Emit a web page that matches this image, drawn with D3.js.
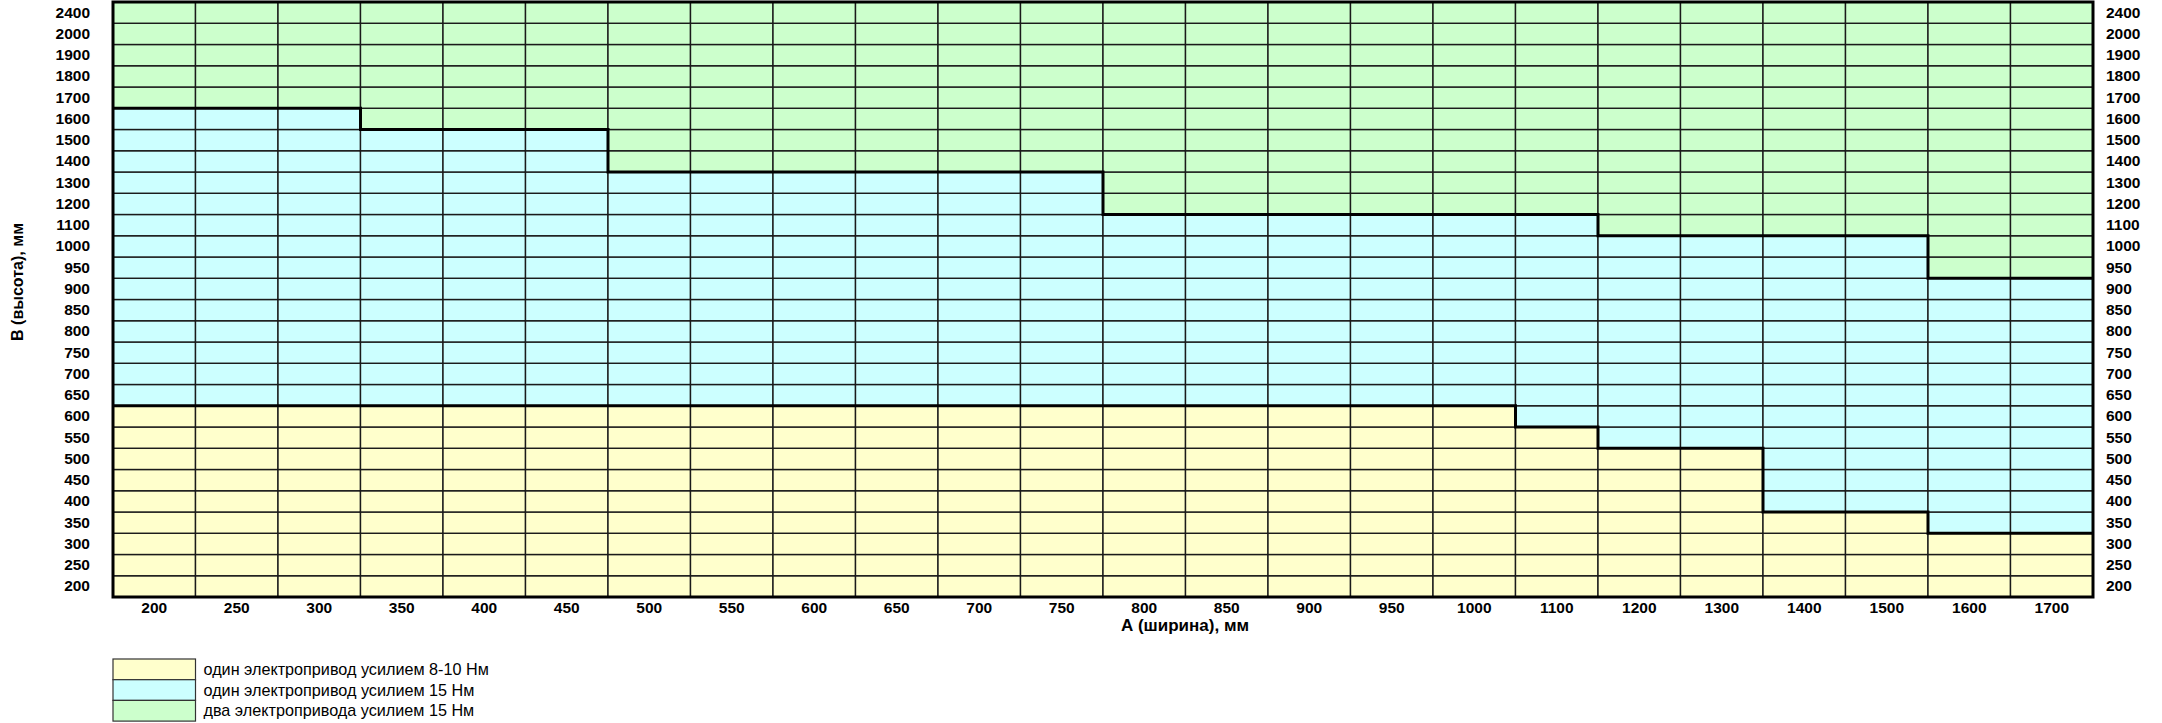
<!DOCTYPE html>
<html>
<head>
<meta charset="utf-8">
<script src="https://cdn.jsdelivr.net/npm/d3@7"></script>
<style>
  body { margin: 0; background: #fff; }
  svg { display: block; font-family: "Liberation Sans", Arial, sans-serif; }
  .tick text { font-weight: bold; font-size: 15.5px; fill: #000; }
  .domain { display: none; }
</style>
</head>
<body>
<svg id="chart" width="2162" height="723"></svg>
<script>
// column labels, A (width), mm
let widths = [200, 250, 300, 350, 400, 450, 500, 550, 600, 650, 700, 750,
              800, 850, 900, 950, 1000, 1100, 1200, 1300, 1400, 1500, 1600, 1700];
// row labels, B (height), mm, bottom to top
let heights = [200, 250, 300, 350, 400, 450, 500, 550, 600, 650, 700, 750, 800, 850,
               900, 950, 1000, 1100, 1200, 1300, 1400, 1500, 1600, 1700, 1800, 1900, 2000, 2400];
// highest height per width covered by one 8-10 Nm drive
let oneSmallMax = [600, 600, 600, 600, 600, 600, 600, 600, 600, 600, 600, 600,
                   600, 600, 600, 600, 600, 550, 500, 500, 350, 350, 300, 300];
// highest height per width covered by one 15 Nm drive
let oneBigMax = [1600, 1600, 1600, 1500, 1500, 1500, 1300, 1300, 1300, 1300, 1300, 1300,
                 1100, 1100, 1100, 1100, 1100, 1100, 1000, 1000, 1000, 1000, 900, 900];

let legend_labels = ["один электропривод усилием 8-10 Нм",
                     "один электропривод усилием 15 Нм",
                     "два электропривода усилием 15 Нм"];
let colors = ["#ffffcc", "#ccffff", "#ccffcc"];

let svg = d3.select("#chart");

let pl = 113, pr = 2093, pt = 2, pb = 597;

let x = d3.scaleBand().domain(widths).range([pl, pr]).padding(0);
let y = d3.scaleBand().domain(heights).range([pb, pt]).padding(0);

// cells
let cells = [];
widths.forEach(function(w, i){
    heights.forEach(function(h){
        let cat = h <= oneSmallMax[i] ? 0 : (h <= oneBigMax[i] ? 1 : 2);
        cells.push({w: w, h: h, cat: cat});
    });
});

svg.append("g")
    .selectAll("rect")
    .data(cells)
    .enter().append("rect")
        .attr("x", function(d){ return x(d.w); })
        .attr("y", function(d){ return y(d.h); })
        .attr("width", x.bandwidth())
        .attr("height", y.bandwidth())
        .attr("fill", function(d){ return colors[d.cat]; })
        .attr("stroke", "#1a1a1a")
        .attr("stroke-width", 1.4);

// step boundaries between zones
let line = d3.line();
function steps(maxes){
    let pts = [];
    widths.forEach(function(w, i){
        let yy = y(maxes[i]);
        pts.push([x(w), yy]);
        pts.push([x(w) + x.bandwidth(), yy]);
    });
    return pts;
}
[oneSmallMax, oneBigMax].forEach(function(m){
    svg.append("path")
        .attr("d", line(steps(m)))
        .attr("fill", "none")
        .attr("stroke", "#000")
        .attr("stroke-width", 3);
});

// outer frame
svg.append("rect")
    .attr("x", pl).attr("y", pt)
    .attr("width", pr - pl).attr("height", pb - pt)
    .attr("fill", "none").attr("stroke", "#000").attr("stroke-width", 3);

// axes
svg.append("g").attr("transform", "translate(" + pl + ",0)")
    .call(d3.axisLeft(y).tickSize(0).tickPadding(23));
svg.append("g").attr("transform", "translate(" + pr + ",0)")
    .call(d3.axisRight(y).tickSize(0).tickPadding(13));
svg.append("g").attr("transform", "translate(0," + pb + ")")
    .call(d3.axisBottom(x).tickSize(0).tickPadding(5));
svg.selectAll(".tick text").attr("font-family", null).attr("font-size", null);

// axis titles
svg.append("text")
    .attr("x", 1185).attr("y", 631)
    .attr("text-anchor", "middle")
    .attr("font-weight", "bold").attr("font-size", 17)
    .text("А (ширина), мм");
svg.append("text")
    .attr("transform", "translate(23,282) rotate(-90)")
    .attr("text-anchor", "middle")
    .attr("font-weight", "bold").attr("font-size", 16)
    .attr("textLength", 118).attr("lengthAdjust", "spacingAndGlyphs")
    .text("В (высота), мм");

// legend
let lg = svg.append("g").attr("transform", "translate(" + pl + ",659)");
let lh = 20.7;
lg.selectAll("rect")
    .data(legend_labels)
    .enter().append("rect")
        .attr("x", 0)
        .attr("y", function(d, i){ return i * lh; })
        .attr("width", x.bandwidth())
        .attr("height", lh)
        .attr("fill", function(d, i){ return colors[i]; })
        .attr("stroke", "#333")
        .attr("stroke-width", 1.2);
lg.selectAll("text")
    .data(legend_labels)
    .enter().append("text")
        .attr("x", x.bandwidth() + 8)
        .attr("y", function(d, i){ return i * lh + lh / 2; })
        .attr("dy", "0.35em")
        .attr("font-size", 16.2)
        .text(function(d){ return d; });
</script>
</body>
</html>
